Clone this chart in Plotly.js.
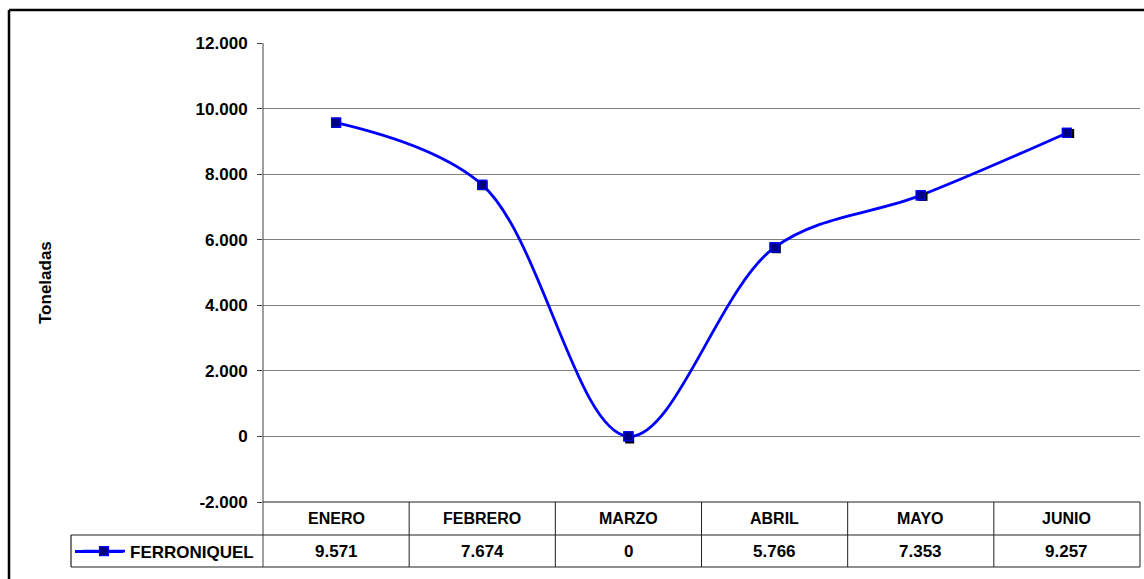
<!DOCTYPE html>
<html>
<head>
<meta charset="utf-8">
<script src="https://cdn.plot.ly/plotly-3.0.1.min.js"></script>
<style>html,body{margin:0;padding:0;background:#fff;}#chart{width:1144px;height:579px;}</style>
</head>
<body>
<div id="chart"></div>
<script>
// ---- data ----
var months = ["ENERO", "FEBRERO", "MARZO", "ABRIL", "MAYO", "JUNIO"];
var ferroniquel = [9571, 7674, 0, 5766, 7353, 9257];
var seriesName = "FERRONIQUEL";
var yTickVals = [-2000, 0, 2000, 4000, 6000, 8000, 10000, 12000];
var yAxisTitle = "Toneladas";

// ---- layout constants (pixels) ----
var W = 1144, H = 579;
var L = 263, R = 1140, T = 43, B = 502;
var PW = R - L, PH = B - T;
function px(x) { return (x - L) / PW; }
function py(y) { return (B - y) / PH; }
var FONT = "Liberation Sans, Arial, sans-serif";
var SH = 3; // marker shadow offset px

function fmt(v) {
  var n = Math.round(v);
  var s = String(Math.abs(n)).replace(/\B(?=(\d{3})+(?!\d))/g, ".");
  return (n < 0 ? "-" : "") + s;
}

var markerStyle = { symbol: "square", size: 9, color: "#000080", line: { color: "#0000FF", width: 1.2 } };
var traces = [
  {
    x: months, y: ferroniquel, name: seriesName,
    type: "scatter", mode: "lines+markers",
    line: { color: "#0000FF", width: 2.8, shape: "spline", smoothing: 1 },
    marker: markerStyle
  },
  { // shadow of markers
    x: months, y: ferroniquel, xaxis: "x2", yaxis: "y2",
    type: "scatter", mode: "markers", showlegend: false, hoverinfo: "skip",
    marker: { symbol: "square", size: 9, color: "#000000", line: { width: 0 } }
  },
  { // markers redrawn above their shadow
    x: months, y: ferroniquel, xaxis: "x3", yaxis: "y3",
    type: "scatter", mode: "markers", showlegend: false, hoverinfo: "skip",
    marker: markerStyle
  }
];

var unitX = PW / 6;
var unitY = PH / 14000;

var shapes = [];
function line(x0, y0, x1, y1, color, w) {
  shapes.push({ type: "line", xref: "paper", yref: "paper", x0: px(x0), y0: py(y0), x1: px(x1), y1: py(y1),
    line: { color: color, width: w }, layer: "above" });
}
// outer frame
line(9, 10, 1160, 10, "#000000", 2.5);
line(9, 10, 9, 600, "#000000", 2.5);
// y axis line through table
line(L, T, L, 567, "#404040", 1);
// table lines
line(L, B, R, B, "#202020", 1.2);
line(71, 535, R, 535, "#202020", 1.2);
line(71, 567, R, 567, "#202020", 1.2);
line(71, 535, 71, 567, "#202020", 1.2);
for (var i = 1; i <= 6; i++) {
  var xx = L + unitX * i;
  line(xx, B, xx, 567, "#202020", 1);
}

var annotations = [];
months.forEach(function (m, i) {
  annotations.push({ xref: "x", yref: "paper", x: m, y: py(518.5), text: m, showarrow: false,
    font: { family: FONT, size: 16, weight: "bold", color: "#000" }, xanchor: "center", yanchor: "middle" });
  annotations.push({ xref: "x", yref: "paper", x: m, y: py(551.5), text: fmt(ferroniquel[i]), showarrow: false,
    font: { family: FONT, size: 17, weight: "bold", color: "#000" }, xanchor: "center", yanchor: "middle" });
});
annotations.push({ xref: "paper", yref: "paper", x: px(45), y: py(283), text: yAxisTitle, textangle: -90,
  showarrow: false, font: { family: FONT, size: 17, weight: "bold", color: "#000" }, xanchor: "center", yanchor: "middle" });
// legend sample line (long part)
shapes.push({ type: "line", xref: "paper", yref: "paper", x0: px(75), x1: px(123), y0: py(551.5), y1: py(551.5),
  line: { color: "#0000FF", width: 2.8 }, layer: "below" });

var layout = {
  width: W, height: H,
  margin: { l: L, r: W - R, t: T, b: H - B, pad: 0 },
  paper_bgcolor: "#ffffff", plot_bgcolor: "#ffffff",
  showlegend: true,
  legend: { x: px(78), y: py(551.5), xanchor: "left", yanchor: "middle", bgcolor: "rgba(0,0,0,0)",
    borderwidth: 0, font: { family: FONT, size: 17, weight: "bold", color: "#000" }, itemwidth: 42 },
  xaxis: { type: "category", categoryarray: months, range: [-0.5, 5.5], showticklabels: false, showgrid: false, zeroline: false,
    showline: false, ticks: "", fixedrange: true },
  yaxis: { range: [-2000, 12000], tickvals: yTickVals, ticktext: yTickVals.map(fmt), showgrid: true, gridcolor: "#808080",
    gridwidth: 1, zeroline: false, showline: false, ticks: "outside", ticklen: 5, tickcolor: "#404040",
    ticklabelstandoff: 6,
    tickfont: { family: FONT, size: 17, weight: "bold", color: "#000" }, fixedrange: true },
  xaxis2: { type: "category", overlaying: "x", anchor: "y2", domain: [SH / PW, 1],
    range: [-0.5, 5.5 - SH / unitX], visible: false, fixedrange: true },
  yaxis2: { overlaying: "y", anchor: "x2", domain: [0, 1 - SH / PH],
    range: [-2000 + SH / unitY, 12000], visible: false, fixedrange: true },
  xaxis3: { type: "category", overlaying: "x", anchor: "y3", domain: [0, 1],
    range: [-0.5, 5.5], visible: false, fixedrange: true },
  yaxis3: { overlaying: "y", anchor: "x3", domain: [0, 1],
    range: [-2000, 12000], visible: false, fixedrange: true },
  shapes: shapes,
  annotations: annotations
};

Plotly.newPlot("chart", traces, layout, { displayModeBar: false, staticPlot: true });
</script>
</body>
</html>
